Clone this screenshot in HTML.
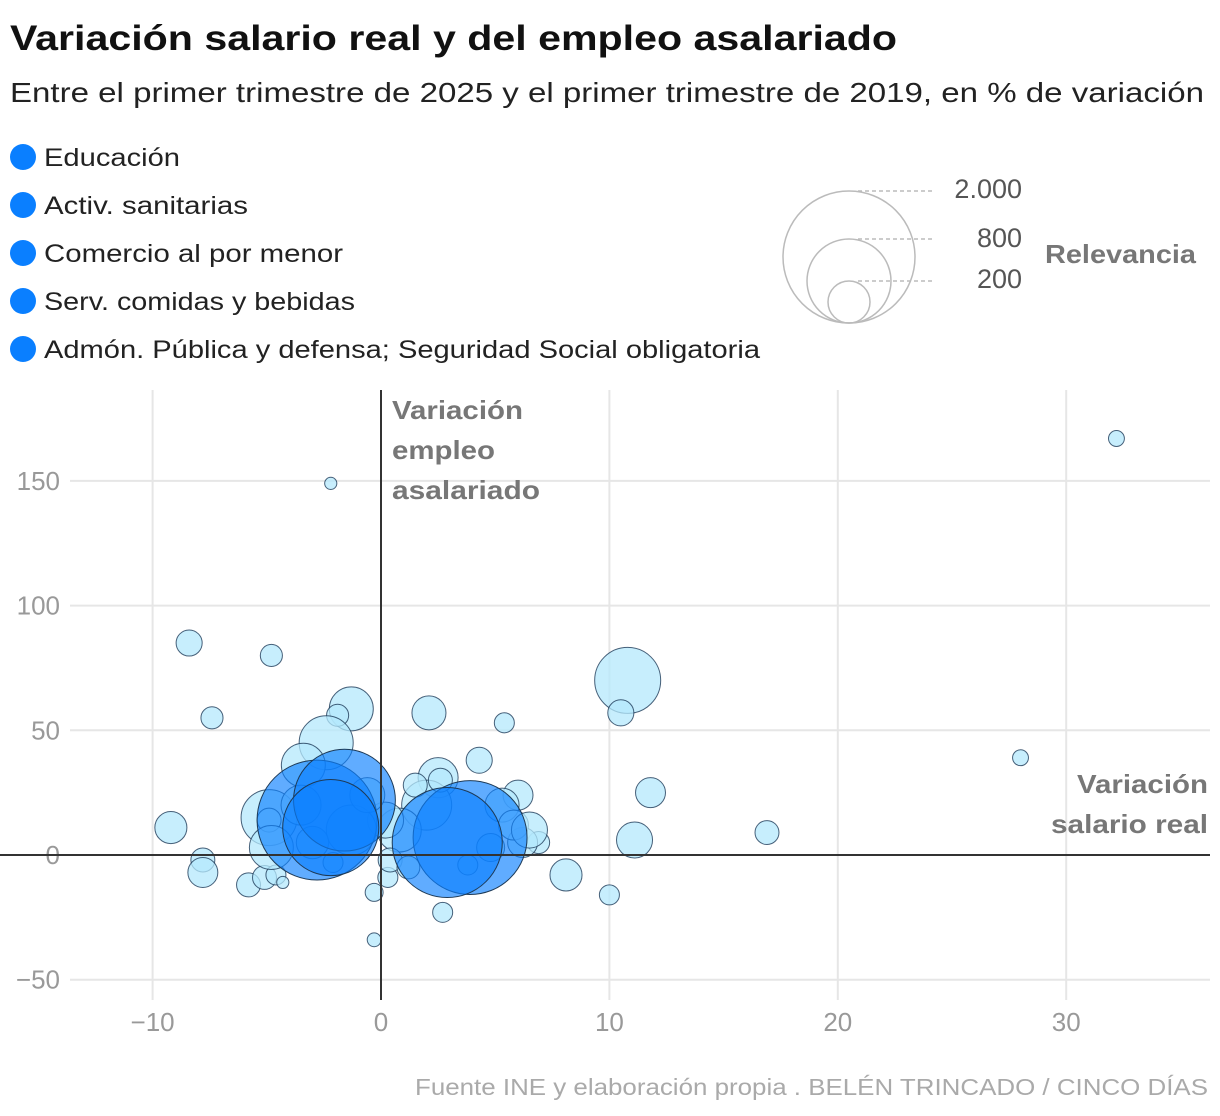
<!DOCTYPE html>
<html><head><meta charset="utf-8">
<style>
body{margin:0;background:#fff;width:1220px;height:1116px;overflow:hidden;font-family:"Liberation Sans",sans-serif;}
svg{position:absolute;left:0;top:0}
</style></head>
<body>
<svg id="chart" width="1220" height="1116">
<text x="10" y="50" font-size="35" font-weight="bold" fill="#111" textLength="887" lengthAdjust="spacingAndGlyphs">Variación salario real y del empleo asalariado</text>
<text x="10" y="102" font-size="28" fill="#222" textLength="1194" lengthAdjust="spacingAndGlyphs">Entre el primer trimestre de 2025 y el primer trimestre de 2019, en % de variación</text>
<g id="legend"></g>
<g fill="none" stroke="#bbb" stroke-width="1.5">
 <circle cx="849" cy="257" r="66"/><circle cx="849" cy="281" r="42"/><circle cx="849" cy="302" r="21"/>
 <line x1="858" y1="191" x2="933" y2="191" stroke-dasharray="4,3"/>
 <line x1="858" y1="239" x2="933" y2="239" stroke-dasharray="4,3"/>
 <line x1="858" y1="281" x2="933" y2="281" stroke-dasharray="4,3"/>
</g>
<g font-size="27" fill="#555" text-anchor="end">
 <text x="1022" y="198">2.000</text>
 <text x="1022" y="247">800</text>
 <text x="1022" y="288">200</text>
</g>
<text x="1045" y="263" font-size="26" font-weight="bold" fill="#777" textLength="151" lengthAdjust="spacingAndGlyphs">Relevancia</text>
<g id="grid"></g>
<g id="bubbles"></g>
<g id="axes"></g>
<g font-size="26" font-weight="bold" fill="#777" lengthAdjust="spacingAndGlyphs">
 <text x="392" y="419" textLength="131" lengthAdjust="spacingAndGlyphs">Variación</text>
 <text x="392" y="459" textLength="103" lengthAdjust="spacingAndGlyphs">empleo</text>
 <text x="392" y="499" textLength="148" lengthAdjust="spacingAndGlyphs">asalariado</text>
 <text x="1077" y="793" textLength="131" lengthAdjust="spacingAndGlyphs">Variación</text>
 <text x="1051" y="833" textLength="157" lengthAdjust="spacingAndGlyphs">salario real</text>
</g>
<text x="415" y="1095" font-size="23" fill="#aaa" textLength="793" lengthAdjust="spacingAndGlyphs">Fuente INE y elaboración propia . BELÉN TRINCADO / CINCO DÍAS</text>
</svg>
<script>
const legendLabels=["Educación","Activ. sanitarias","Comercio al por menor","Serv. comidas y bebidas","Admón. Pública y defensa; Seguridad Social obligatoria"];
const legendWidths=[136,204,299,311,716];
const xTicks=[-10,0,10,20,30];
const yTicks=[-50,0,50,100,150];
const highX=[-2.8,-1.6,-2.2,3.9,2.9];
const highY=[14,22,11,7,5];
const highS=[1650,1190,1060,1490,1390];
const lowX=[-8.4,-4.8,-7.4,-2.2,32.2,10.8,10.5,2.1,5.4,-1.3,-1.9,-2.4,-3.4,4.3,28,11.8,6.0,16.9,11.1,-9.2,-7.8,-7.8,-5.8,-5.1,-4.6,-4.3,-0.3,0.3,2.7,-0.3,8.1,10.0,6.9,6.2,-4.9,-4.9,-4.8,2.5,2.0,1.5,2.6,5.3,5.8,6.5,0.8,0.2,0.4,-2.1,-1.3,3.8,-3.5,-3.0,4.8,1.2,-0.6];
const lowY=[85,80,55,149,167,70,57,57,53,58.6,56,45,36,38,39,25,24,9,6,11,-2,-7,-12,-9,-8,-11,-15,-9,-23,-34,-8,-16,5,5,15,14,3,31,20,28,30,20,12,10,10,14,-2,-3,10,-4,20,5,3,-5,24];
const lowS=[78,56,56,17,29,500,78,133,46,222,56,335,222,78,29,103,103,66,149,118,66,103,66,66,46,17,37,46,46,22,118,46,56,103,360,66,222,184,287,66,66,133,103,149,222,149,66,46,287,46,184,120,90,60,140];
const X=v=>381+v*22.84, Y=v=>855-v*2.494, R=s=>1.476*Math.sqrt(s);
const NS="http://www.w3.org/2000/svg";
function mk(tag,attrs,parent){const e=document.createElementNS(NS,tag);for(const k in attrs)e.setAttribute(k,attrs[k]);parent.appendChild(e);return e;}
const lg=document.getElementById('legend');
legendLabels.forEach((t,i)=>{
 const c=mk('circle',{cx:23,cy:157+i*48,r:13,fill:'#0a7fff'},lg);
 
 
 const tx=mk('text',{x:44,y:166+i*48,'font-size':25,fill:'#222',textLength:legendWidths[i],lengthAdjust:'spacingAndGlyphs'},lg);tx.textContent=t;
 
 
});
const g=document.getElementById('grid');
xTicks.forEach(v=>{
 if(v!==0){const l=mk('line',{x1:X(v),x2:X(v),y1:390,y2:1000,stroke:'#e6e6e6','stroke-width':2},g);
 
 }
 const t=mk('text',{x:X(v),y:1031,'text-anchor':'middle','font-size':26,fill:'#999'},g);t.textContent=v<0?'−'+(-v):v;
 
 
});
yTicks.forEach(v=>{
 if(v!==0){const l=mk('line',{x1:70,x2:1210,y1:Y(v),y2:Y(v),stroke:'#e6e6e6','stroke-width':2},g);
 
 }
 const t=mk('text',{x:60,y:Y(v)+9,'text-anchor':'end','font-size':26,fill:'#999'},g);t.textContent=v<0?'−'+(-v):v;
 
 
});
const b=document.getElementById('bubbles');
lowX.forEach((x,i)=>{
 const c=mk('circle',{cx:X(x),cy:Y(lowY[i]),r:R(lowS[i]),fill:'rgba(180,232,252,0.75)',stroke:'#1d3a57','stroke-width':1,'stroke-opacity':0.8},b);
 
 
});
highX.forEach((x,i)=>{
 const c=mk('circle',{cx:X(x),cy:Y(highY[i]),r:R(highS[i]),fill:'rgba(10,127,255,0.65)',stroke:'#1d3a57','stroke-width':1},b);
 
 
});
const a=document.getElementById('axes');
const zx=mk('line',{x1:X(0),x2:X(0),y1:390,y2:1000,stroke:'#333','stroke-width':2},a);


const zy=mk('line',{x1:0,x2:1210,y1:Y(0),y2:Y(0),stroke:'#333','stroke-width':2},a);


</script>
</body></html>
